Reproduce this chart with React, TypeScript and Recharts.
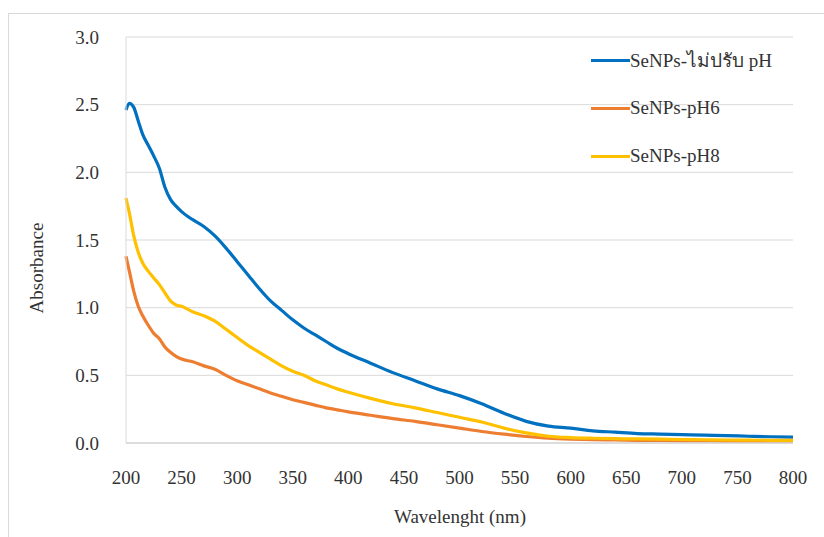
import React from 'react';
import { LineChart, Line, XAxis, YAxis, CartesianGrid, Legend } from 'recharts';

const wavelengths = [
  200, 203, 207, 211, 215, 220, 225, 230, 235, 240, 245, 250, 260, 270, 280, 290, 300, 310, 320, 330,
  340, 350, 360, 370, 380, 390, 400, 420, 440, 460, 480, 500, 520, 540, 560, 580, 600, 620, 640, 660,
  680, 700, 720, 740, 760, 780, 800,
];

const noAdjust = [
  2.46, 2.51, 2.48, 2.38, 2.28, 2.2, 2.12, 2.03, 1.89, 1.8, 1.75, 1.71, 1.65, 1.6, 1.53, 1.44, 1.34, 1.24, 1.14, 1.05,
  0.98, 0.91, 0.85, 0.8, 0.75, 0.7, 0.66, 0.59, 0.52, 0.46, 0.4, 0.35, 0.29, 0.22, 0.16, 0.125, 0.11, 0.09, 0.08, 0.07,
  0.066, 0.062, 0.058, 0.055, 0.05, 0.046, 0.043,
];

const ph6 = [
  1.38, 1.27, 1.12, 1.01, 0.94, 0.87, 0.81, 0.77, 0.71, 0.67, 0.64, 0.62, 0.6, 0.57, 0.545, 0.5, 0.46, 0.43, 0.4, 0.37,
  0.345, 0.32, 0.3, 0.28, 0.26, 0.245, 0.23, 0.205, 0.18, 0.16, 0.135, 0.11, 0.085, 0.065, 0.048, 0.035, 0.028, 0.024,
  0.022, 0.02, 0.019, 0.018, 0.017, 0.016, 0.016, 0.015, 0.015,
];

const ph8 = [
  1.81, 1.7, 1.53, 1.41, 1.33, 1.27, 1.22, 1.17, 1.11, 1.05, 1.02, 1.01, 0.97, 0.94, 0.9, 0.84, 0.78, 0.72, 0.67, 0.62,
  0.57, 0.53, 0.5, 0.46, 0.43, 0.4, 0.375, 0.33, 0.29, 0.26, 0.225, 0.19, 0.155, 0.11, 0.075, 0.05, 0.04, 0.035, 0.032,
  0.03, 0.028, 0.026, 0.024, 0.022, 0.021, 0.02, 0.02,
];

const seriesNames = ['SeNPs-ไม่ปรับ pH', 'SeNPs-pH6', 'SeNPs-pH8'];
const xTicks = [200, 250, 300, 350, 400, 450, 500, 550, 600, 650, 700, 750, 800];
const yTicks = [0, 0.5, 1, 1.5, 2, 2.5, 3];

const data = wavelengths.map((w, i) => ({ w, a: noAdjust[i], b: ph6[i], c: ph8[i] }));

const FONT = 'Liberation Serif, Times New Roman, serif';
const TEXT = '#333333';

const renderLegend = ({ payload }: any) => {
  const items = [...(payload || [])].sort((p: any, q: any) => seriesNames.indexOf(p.value) - seriesNames.indexOf(q.value));
  return (
    <div style={{ display: 'flex', flexDirection: 'column' }}>
      {items.map((entry: any) => (
        <div key={entry.value} style={{ display: 'flex', alignItems: 'center', height: 48 }}>
          <span style={{ display: 'inline-block', width: 39, height: 3, background: entry.color }} />
          <span style={{ fontSize: 19, fontFamily: FONT, color: TEXT, whiteSpace: 'nowrap' }}>{entry.value}</span>
        </div>
      ))}
    </div>
  );
};

export default function App() {
  return (
    <div style={{ position: 'absolute', left: 0, top: 0, width: 824, height: 537, overflow: 'hidden', background: '#fff' }}>
      <div style={{ position: 'absolute', left: 8, top: 13, right: -2, bottom: -2, border: '1px solid #d9d9d9' }} />
      <div style={{ position: 'absolute', left: 0, top: 0 }}>
        <LineChart width={824} height={537} data={data} margin={{ top: 37, right: 31, left: 0, bottom: 0 }}>
          <CartesianGrid horizontal vertical={false} stroke="#d9d9d9" />
          <XAxis
            dataKey="w"
            type="number"
            domain={[200, 800]}
            ticks={xTicks}
            height={94}
            tickSize={0}
            tickMargin={28}
            axisLine={{ stroke: '#cccccc' }}
            tick={{ fontSize: 19, fontFamily: FONT, fill: TEXT }}
            label={{
              content: () => (
                <text x={460} y={516} textAnchor="middle" dominantBaseline="central" fontSize={19} fontFamily={FONT} fill={TEXT}>
                  Wavelenght (nm)
                </text>
              ),
            }}
          />
          <YAxis
            type="number"
            domain={[0, 3]}
            ticks={yTicks}
            width={126}
            tickSize={0}
            tickMargin={27}
            axisLine={{ stroke: '#d9d9d9' }}
            tickFormatter={(v: number) => v.toFixed(1)}
            tick={{ fontSize: 19, fontFamily: FONT, fill: TEXT }}
            label={{
              content: () => (
                <text x={36} y={268} transform="rotate(-90 36 268)" textAnchor="middle" dominantBaseline="central" fontSize={19} fontFamily={FONT} fill={TEXT}>
                  Absorbance
                </text>
              ),
            }}
          />
          <Legend
            layout="vertical"
            verticalAlign="middle"
            align="center"
            content={renderLegend}
            wrapperStyle={{ top: 36, left: 591, width: 225 }}
          />
          <Line type="monotone" dataKey="a" name={seriesNames[0]} stroke="#0070C0" strokeWidth={3.2} dot={false} isAnimationActive={false} />
          <Line type="monotone" dataKey="b" name={seriesNames[1]} stroke="#ED7D31" strokeWidth={3.2} dot={false} isAnimationActive={false} />
          <Line type="monotone" dataKey="c" name={seriesNames[2]} stroke="#FFC000" strokeWidth={3.2} dot={false} isAnimationActive={false} />
        </LineChart>
      </div>
    </div>
  );
}
